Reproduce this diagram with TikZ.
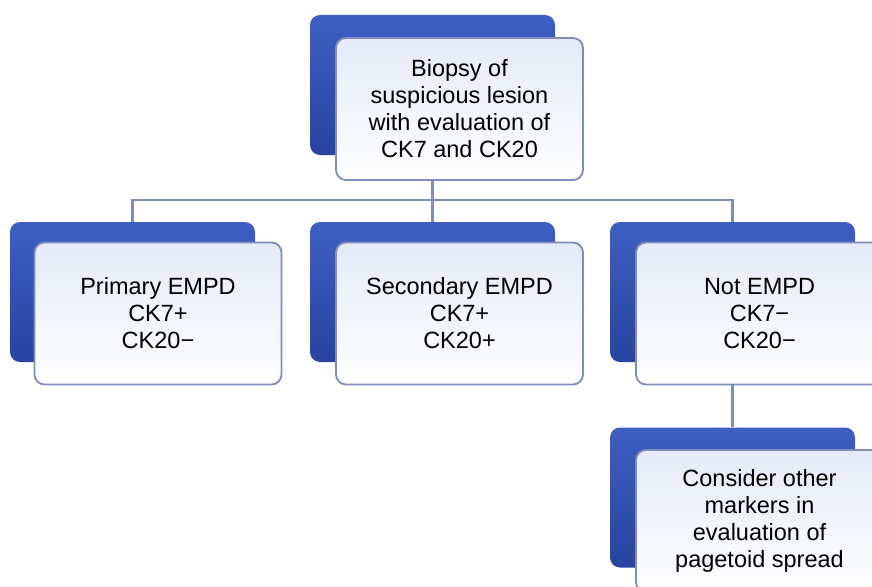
\documentclass[tikz,border=0pt]{standalone}
\usepackage{fontspec}
\setmainfont{Liberation Sans}
\usepackage{xcolor}
\usepackage{tikz}
\definecolor{empdBlue}{RGB}{62, 94, 194}
\definecolor{empdBlueDark}{RGB}{40, 68, 160}
\definecolor{empdPale}{RGB}{228, 234, 248}
\definecolor{empdLine}{RGB}{128, 140, 186}

\begin{document}
\begin{tikzpicture}[
    x=1pt, y=-1pt,
    backbox/.style={rounded corners=10pt, minimum width=245pt, minimum height=140pt,
        top color=empdBlue, bottom color=empdBlueDark, draw=none, inner sep=0pt},
    frontbox/.style={rounded corners=10pt, minimum width=247pt, minimum height=142pt,
        draw=empdLine, line width=1.8pt, top color=empdPale, bottom color=white,
        align=center, font=\fontsize{23.5}{27}\selectfont},
    link/.style={draw=empdLine, line width=2.4pt}
]
\useasboundingbox (0,0) rectangle (872,586);

% top
\node[backbox] (rootback) at (432.5,85) {};
\node[frontbox] (rootfront) at (459.5,109) {Biopsy of\\suspicious lesion\\with evaluation of\\CK7 and CK20};

% second row
\node[backbox] (primaryback) at (132.5,292) {};
\node[frontbox] (primaryfront) at (158,313.5) {Primary EMPD\\CK7+\\CK20−};
\node[backbox] (secondaryback) at (432.5,292) {};
\node[frontbox] (secondaryfront) at (459.5,313.5) {Secondary EMPD\\CK7+\\CK20+};
\node[backbox] (notback) at (732.5,292) {};
\node[frontbox] (notfront) at (759.5,313.5) {Not EMPD\\CK7−\\CK20−};

% last
\node[backbox] (otherback) at (732.5,497.5) {};
\node[frontbox] (otherfront) at (759.5,521) {Consider other\\markers in\\evaluation of\\pagetoid spread};

% connectors
\coordinate (bus) at (432.5,200);
\draw[link] (rootback |- rootfront.south) -- (bus);
\draw[link] (primaryback.north) |- (bus) -| (notback.north);
\draw[link] (bus) -- (secondaryback.north);
\draw[link] (notback |- notfront.south) -- (otherback.north);
\end{tikzpicture}
\end{document}
